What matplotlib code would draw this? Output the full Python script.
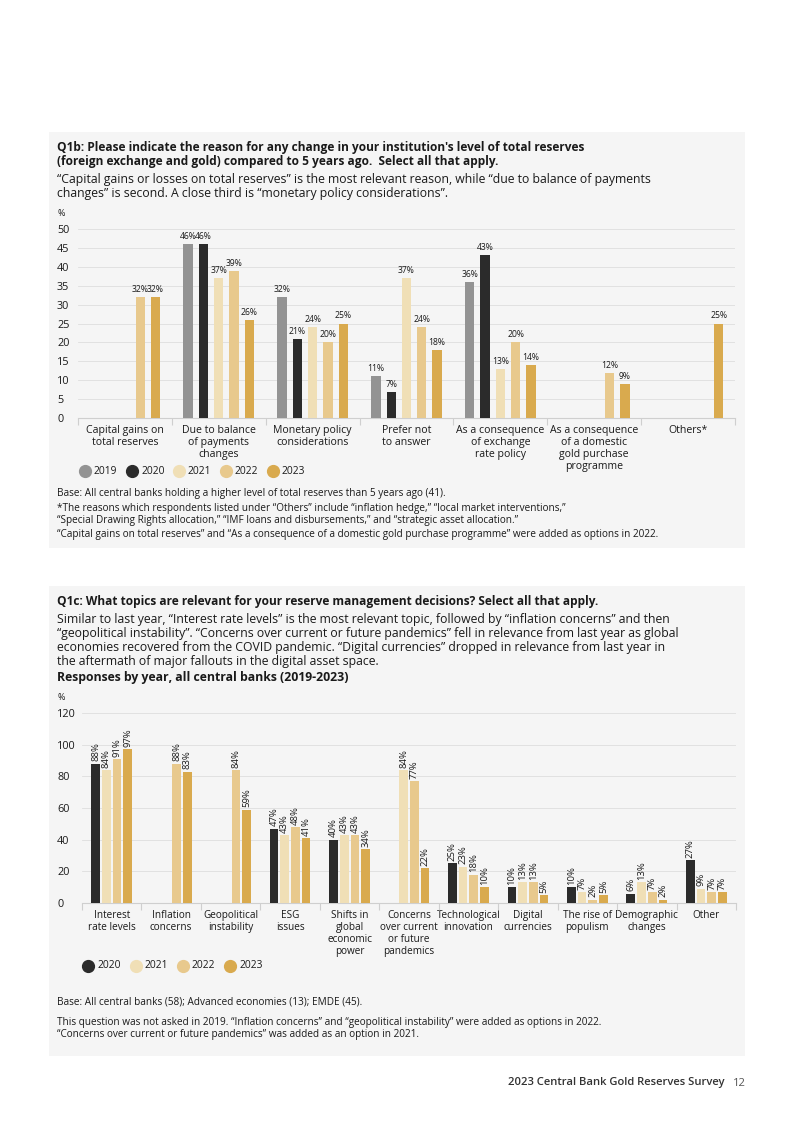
import numpy as np
import matplotlib
matplotlib.use("Agg")
from matplotlib import pyplot as plt
from matplotlib.patches import Rectangle
from matplotlib.lines import Line2D

plt.rcParams['font.family'] = ['Open Sans', 'DejaVu Sans']

W, H = 793, 1122
BG = '#f5f5f5'
TXT = '#1a1a1a'
GRID = '#dedede'

# ---- Q1b data ----
q1b_years = ['2019', '2020', '2021', '2022', '2023']
q1b_colors = ['#939393', '#2b2b2b', '#f0dfb6', '#e8c98d', '#d9aa4e']
q1b_cats = ['Capital gains on\ntotal reserves', 'Due to balance\nof payments\nchanges',
            'Monetary policy\nconsiderations', 'Prefer not\nto answer',
            'As a consequence\nof exchange\nrate policy',
            'As a consequence\nof a domestic\ngold purchase\nprogramme', 'Others*']
nan = np.nan
q1b_2019 = [nan, 46, 32, 11, 36, nan, nan]
q1b_2020 = [nan, 46, 21, 7, 43, nan, nan]
q1b_2021 = [nan, 37, 24, 37, 13, nan, nan]
q1b_2022 = [32, 39, 20, 24, 20, 12, nan]
q1b_2023 = [32, 26, 25, 18, 14, 9, 25]
q1b_ticks = [0, 5, 10, 15, 20, 25, 30, 35, 40, 45, 50]

# ---- Q1c data ----
q1c_years = ['2020', '2021', '2022', '2023']
q1c_colors = ['#2b2b2b', '#f0dfb6', '#e8c98d', '#d9aa4e']
q1c_cats = ['Interest\nrate levels', 'Inflation\nconcerns', 'Geopolitical\ninstability',
            'ESG\nissues', 'Shifts in\nglobal\neconomic\npower',
            'Concerns\nover current\nor future\npandemics', 'Technological\ninnovation',
            'Digital\ncurrencies', 'The rise of\npopulism', 'Demographic\nchanges', 'Other']
q1c_2020 = [88, nan, nan, 47, 40, nan, 25, 10, 10, 6, 27]
q1c_2021 = [84, nan, nan, 43, 43, 84, 23, 13, 7, 13, 9]
q1c_2022 = [91, 88, 84, 48, 43, 77, 18, 13, 2, 7, 7]
q1c_2023 = [97, 83, 59, 41, 34, 22, 10, 5, 5, 2, 7]
q1c_ticks = [0, 20, 40, 60, 80, 100, 120]


def fx(px):
    return px / W


def fy(py):
    return 1 - py / H


def ftext(x, y, s, **kw):
    kw.setdefault('color', TXT)
    kw.setdefault('va', 'center')
    fig.text(fx(x), fy(y), s, **kw)


fig = plt.figure(figsize=(W / 100, H / 100), dpi=100)
fig.patch.set_facecolor('white')
fig.patches.append(Rectangle((fx(49), fy(548)), fx(745) - fx(49), fy(132) - fy(548),
                             transform=fig.transFigure, facecolor=BG, edgecolor='none', zorder=-10))
fig.patches.append(Rectangle((fx(49), fy(1056)), fx(745) - fx(49), fy(586) - fy(1056),
                             transform=fig.transFigure, facecolor=BG, edgecolor='none', zorder=-10))


def style_axes(ax, ticks, ncat, pad_px, xsize):
    ax.set_facecolor(BG)
    for s in ['top', 'right', 'left']:
        ax.spines[s].set_visible(False)
    ax.spines['bottom'].set_color('#cfcfcf')
    ax.spines['bottom'].set_linewidth(0.8)
    ax.set_yticks(ticks)
    ax.set_ylim(ticks[0], ticks[-1])
    ax.yaxis.grid(True, color=GRID, lw=0.6)
    ax.set_axisbelow(True)
    # pad is in points; convert from pixels at 100 dpi
    ax.tick_params(axis='y', length=0, labelsize=7.8, labelcolor=TXT, pad=pad_px * 0.72)
    ax.set_xlim(-0.5, ncat - 0.5)
    ax.set_xticks(np.arange(-0.5, ncat), minor=True)
    ax.tick_params(axis='x', which='minor', length=5, color='#cfcfcf', width=0.8)
    ax.tick_params(axis='x', which='major', length=0, labelsize=xsize, labelcolor=TXT, pad=5)
    ax.set_xticks(np.arange(ncat))
    for t in ax.get_yticklabels():
        t.set_ha('left')


# ================= Q1b =================
ftext(57, 148, "Q1b: Please indicate the reason for any change in your institution's level of total reserves",
      fontsize=8.6, fontweight='bold')
ftext(57, 162, "(foreign exchange and gold) compared to 5 years ago.  Select all that apply.",
      fontsize=8.6, fontweight='bold')
ftext(57, 180, "\u201cCapital gains or losses on total reserves\u201d is the most relevant reason, while \u201cdue to balance of payments",
      fontsize=8.8)
ftext(57, 194, "changes\u201d is second. A close third is \u201cmonetary policy considerations\u201d.", fontsize=8.8)
ftext(57, 213, "%", fontsize=6.5)

ax1 = fig.add_axes([fx(78), fy(418), fx(735) - fx(78), fy(229) - fy(418)])
style_axes(ax1, q1b_ticks, len(q1b_cats), 21, 7.6)
ax1.set_xticklabels(q1b_cats, linespacing=1.12)

q1b_series = [q1b_2019, q1b_2020, q1b_2021, q1b_2022, q1b_2023]
x1 = np.arange(len(q1b_cats))
step1, bw1 = 0.163, 0.10
for i, (vals, col) in enumerate(zip(q1b_series, q1b_colors)):
    xs = x1 + (i - 2) * step1
    v = np.array(vals, dtype=float)
    ax1.bar(xs, v, width=bw1, color=col, zorder=3)
    for xx, vv in zip(xs, v):
        if not np.isnan(vv):
            ax1.text(xx, vv + 0.8, f"{int(vv)}%", ha='center', va='bottom',
                     fontsize=6.2, color=TXT)

# legend Q1b
for i, (yr, col) in enumerate(zip(q1b_years, q1b_colors)):
    cx = 85 + i * 47
    fig.add_artist(Line2D([fx(cx)], [fy(471)], marker='o', markersize=8.5, color=col,
                          transform=fig.transFigure, linestyle='none'))
    ftext(cx + 9, 471, yr, fontsize=7.4)

ftext(57, 493, "Base: All central banks holding a higher level of total reserves than 5 years ago (41).", fontsize=7.2)
ftext(57, 509, "*The reasons which respondents listed under \u201cOthers\u201d include \u201cinflation hedge,\u201d \u201clocal market interventions,\u201d",
      fontsize=7.2)
ftext(57, 521, "\u201cSpecial Drawing Rights allocation,\u201d \u201cIMF loans and disbursements,\u201d and \u201cstrategic asset allocation.\u201d",
      fontsize=7.2)
ftext(57, 534, "\u201cCapital gains on total reserves\u201d and \u201cAs a consequence of a domestic gold purchase programme\u201d were added as options in 2022.",
      fontsize=7.2)

# ================= Q1c =================
ftext(57, 602, "Q1c: What topics are relevant for your reserve management decisions? Select all that apply.",
      fontsize=8.6, fontweight='bold')
q1c_text = ["Similar to last year, \u201cInterest rate levels\u201d is the most relevant topic, followed by \u201cinflation concerns\u201d and then",
            "\u201cgeopolitical instability\u201d. \u201cConcerns over current or future pandemics\u201d fell in relevance from last year as global",
            "economies recovered from the COVID pandemic. \u201cDigital currencies\u201d dropped in relevance from last year in",
            "the aftermath of major fallouts in the digital asset space."]
for k, line in enumerate(q1c_text):
    ftext(57, 619 + k * 14, line, fontsize=8.8)
ftext(57, 677, "Responses by year, all central banks (2019-2023)", fontsize=8.8, fontweight='bold')
ftext(57, 698, "%", fontsize=6.5)

ax2 = fig.add_axes([fx(82), fy(903), fx(736) - fx(82), fy(713) - fy(903)])
style_axes(ax2, q1c_ticks, len(q1c_cats), 25, 7.2)
ax2.set_xticklabels(q1c_cats, linespacing=1.12)

q1c_series = [q1c_2020, q1c_2021, q1c_2022, q1c_2023]
x2 = np.arange(len(q1c_cats))
step2, bw2 = 0.18, 0.146
for i, (vals, col) in enumerate(zip(q1c_series, q1c_colors)):
    xs = x2 + (i - 1.5) * step2
    v = np.array(vals, dtype=float)
    ax2.bar(xs, v, width=bw2, color=col, zorder=3)
    for xx, vv in zip(xs, v):
        if not np.isnan(vv):
            ax2.text(xx, vv + 1.5, f"{int(vv)}%", ha='center', va='bottom', rotation=90,
                     fontsize=6.8, color=TXT)

for i, (yr, col) in enumerate(zip(q1c_years, q1c_colors)):
    cx = 88 + i * 47.5
    fig.add_artist(Line2D([fx(cx)], [fy(966)], marker='o', markersize=8.5, color=col,
                          transform=fig.transFigure, linestyle='none'))
    ftext(cx + 9, 966, yr, fontsize=7.4)

ftext(57, 1002, "Base: All central banks (58); Advanced economies (13); EMDE (45).", fontsize=7.2)
ftext(57, 1022, "This question was not asked in 2019. \u201cInflation concerns\u201d and \u201cgeopolitical instability\u201d were added as options in 2022.",
      fontsize=7.2)
ftext(57, 1035, "\u201cConcerns over current or future pandemics\u201d was added as an option in 2021.", fontsize=7.2)

# footer
ftext(725, 1083, "2023 Central Bank Gold Reserves Survey", fontsize=8.1, fontweight='semibold',
      ha='right', color='#333333')
ftext(733, 1083, "12", fontsize=8.1, color='#555555')

fig.savefig("out.png", dpi=100, facecolor='white')
